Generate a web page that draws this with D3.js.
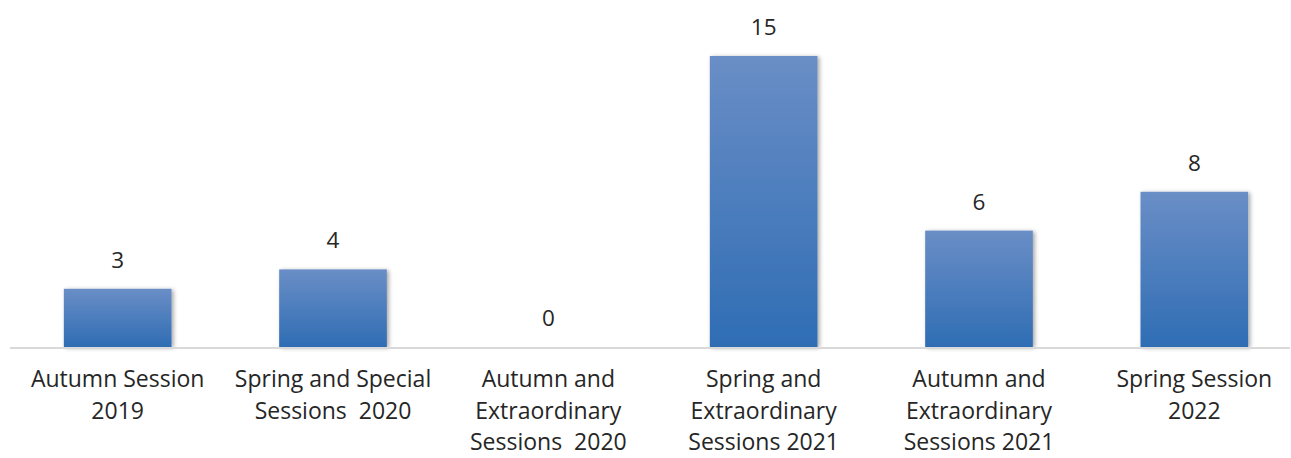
<!DOCTYPE html>
<html>
<head>
<meta charset="utf-8">
<script src="https://cdn.jsdelivr.net/npm/d3@7"></script>
<style>
  html, body { margin: 0; padding: 0; background: #fff; }
  svg { display: block; }
  text { font-family: "Open Sans", "Noto Sans", sans-serif; fill: #262626; }
</style>
</head>
<body>
<svg id="chart" width="1291" height="458"></svg>
<script>
// Session names, each split into its display lines
const categories = [
  ["Autumn Session", "2019"],
  ["Spring and Special", "Sessions  2020"],
  ["Autumn and", "Extraordinary", "Sessions  2020"],
  ["Spring and", "Extraordinary", "Sessions 2021"],
  ["Autumn and", "Extraordinary", "Sessions 2021"],
  ["Spring Session", "2022"]
];
const values = [3, 4, 0, 15, 6, 8];

const svg = d3.select("#chart");

const x = d3.scaleBand()
  .domain(d3.range(categories.length))
  .range([10, 1302])
  .paddingInner(0.5)
  .paddingOuter(0.25);

const y = d3.scaleLinear().domain([0, 15]).range([347, 56]);

const defs = svg.append("defs");
const grad = defs.append("linearGradient")
  .attr("id", "barFill").attr("x1", 0).attr("y1", 0).attr("x2", 0).attr("y2", 1);
grad.append("stop").attr("offset", "0%").attr("stop-color", "#6a8ec6");
grad.append("stop").attr("offset", "100%").attr("stop-color", "#2f6db4");

const shadow = defs.append("filter").attr("id", "barShadow")
  .attr("x", "-20%").attr("y", "-20%").attr("width", "140%").attr("height", "140%");
shadow.append("feDropShadow")
  .attr("dx", 2).attr("dy", 1).attr("stdDeviation", 2)
  .attr("flood-color", "#000").attr("flood-opacity", 0.35);

// bars
svg.append("g").selectAll("rect")
  .data(values)
  .join("rect")
  .attr("x", (d, i) => x(i))
  .attr("y", d => y(d))
  .attr("width", x.bandwidth())
  .attr("height", d => y(0) - y(d))
  .attr("fill", "url(#barFill)")
  .attr("filter", "url(#barShadow)");

// baseline
svg.append("line")
  .attr("x1", 10).attr("x2", 1290)
  .attr("y1", y(0) + 1).attr("y2", y(0) + 1)
  .attr("stroke", "#d9d9d9").attr("stroke-width", 2);

// value labels
svg.append("g").selectAll("text")
  .data(values)
  .join("text")
  .attr("x", (d, i) => x(i) + x.bandwidth() / 2)
  .attr("y", d => y(d) - 21)
  .attr("text-anchor", "middle")
  .style("font-size", "22.5px")
  .text(d => d);

// category labels
const cat = svg.append("g").selectAll("text")
  .data(categories)
  .join("text")
  .attr("x", (d, i) => x(i) + x.bandwidth() / 2)
  .attr("y", 387)
  .attr("text-anchor", "middle")
  .style("font-size", "23px");
cat.selectAll("tspan")
  .data(d => d)
  .join("tspan")
  .attr("x", function () { return this.parentNode.getAttribute("x"); })
  .attr("dy", (d, i) => i === 0 ? 0 : 31.5)
  .style("white-space", "pre")
  .text(d => d);
</script>
</body>
</html>
